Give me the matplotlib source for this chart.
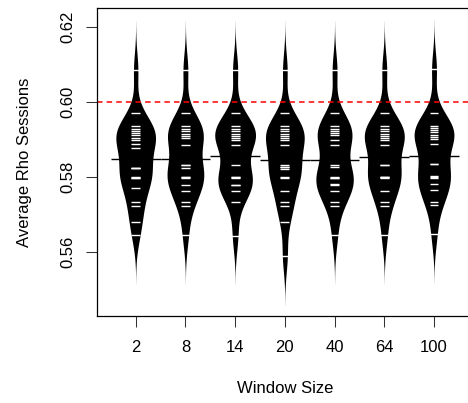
import matplotlib
matplotlib.use('Agg')
import matplotlib.pyplot as plt
import numpy as np

plt.rcParams['font.family'] = ['Liberation Sans', 'DejaVu Sans']

# window sizes (categories)
windows = ['2', '8', '14', '20', '40', '64', '100']

# average rho per session, one list per window size (read off the beanlines,
# repeated values where a beanline looks doubled)
rho_w2 = [0.6086, 0.5971, 0.5935, 0.5929, 0.5923, 0.5917, 0.5911, 0.5905, 0.5899, 0.5888,
          0.5877, 0.5824, 0.5824, 0.5824, 0.5800, 0.5798, 0.5796, 0.5770, 0.5732, 0.5721,
          0.5680, 0.5646]
rho_w8 = [0.6086, 0.5971, 0.5935, 0.5929, 0.5922, 0.5916, 0.5910, 0.5904, 0.5885, 0.5832,
          0.5832, 0.5824, 0.5799, 0.5799, 0.5796, 0.5779, 0.5762, 0.5732, 0.5721, 0.5645]
rho_w14 = [0.6086, 0.5971, 0.5935, 0.5929, 0.5922, 0.5916, 0.5910, 0.5904, 0.5898, 0.5885,
           0.5832, 0.5801, 0.5799, 0.5796, 0.5779, 0.5779, 0.5761, 0.5732, 0.5643]
rho_w20 = [0.6086, 0.5971, 0.5935, 0.5929, 0.5922, 0.5916, 0.5910, 0.5904, 0.5898, 0.5885,
           0.5832, 0.5826, 0.5826, 0.5821, 0.5799, 0.5796, 0.5762, 0.5732, 0.5721, 0.5680,
           0.5588]
rho_w40 = [0.6086, 0.5971, 0.5935, 0.5929, 0.5923, 0.5917, 0.5911, 0.5899, 0.5885, 0.5832,
           0.5826, 0.5800, 0.5798, 0.5796, 0.5780, 0.5779, 0.5762, 0.5732, 0.5721, 0.5645]
rho_w64 = [0.6086, 0.5971, 0.5935, 0.5929, 0.5922, 0.5916, 0.5910, 0.5904, 0.5899, 0.5886,
           0.5833, 0.5833, 0.5800, 0.5800, 0.5799, 0.5797, 0.5763, 0.5732, 0.5721, 0.5645]
rho_w100 = [0.6089, 0.5972, 0.5937, 0.5931, 0.5925, 0.5919, 0.5913, 0.5907, 0.5901, 0.5888,
            0.5835, 0.5835, 0.5802, 0.5800, 0.5798, 0.5782, 0.5765, 0.5734, 0.5724, 0.5647]

reference = 0.60

beans = [rho_w2, rho_w8, rho_w14, rho_w20, rho_w40, rho_w64, rho_w100]

BW = 0.0044      # common kernel bandwidth
CUT = 3          # density extends 3 bw past the data
HALF = 0.41      # max half width of a bean

def kde(data, grid):
    d = np.asarray(data)[:, None]
    return np.exp(-0.5 * ((grid[None, :] - d) / BW) ** 2).sum(axis=0) / len(data)

grids, dens = [], []
for b in beans:
    g = np.linspace(min(b) - CUT * BW, max(b) + CUT * BW, 400)
    grids.append(g)
    dens.append(kde(b, g))
scale = HALF / max(d.max() for d in dens)

fig = plt.figure(figsize=(4.68, 4.03), dpi=100)
ax = fig.add_axes([96.9 / 468, 87 / 403, (472.8 - 96.9) / 468, 308 / 403])

for i, (b, g, d) in enumerate(zip(beans, grids, dens)):
    x = i + 1
    w = d * scale
    ax.fill_betweenx(g, x - w, x + w, color='black', lw=0)
    for v in b:
        ax.plot([x - 0.09, x + 0.09], [v, v], color='white', lw=1.0, solid_capstyle='butt')
    m = np.mean(b)
    ax.plot([x - 0.5, x + 0.5], [m, m], color='black', lw=1.0, solid_capstyle='butt')

ax.axhline(reference, color='#ff0000', lw=1.1, dashes=(3.6, 2.7))

ax.set_xlim(0.22, 7.78)
ax.set_ylim(0.54281, 0.62516)
ax.set_xticks(range(1, 8))
ax.set_xticklabels(windows)
ax.set_yticks([0.56, 0.58, 0.60, 0.62])
ax.set_yticklabels(['0.56', '0.58', '0.60', '0.62'])
ax.tick_params(axis='both', length=8, width=0.75, labelsize=12, color='#333333')
ax.tick_params(axis='x', pad=9.5)
ax.tick_params(axis='y', pad=7.5)
plt.setp(ax.get_yticklabels(), rotation=90, va='center')

for s in ax.spines.values():
    s.set_linewidth(0.9)

ax.set_xlabel('Window Size', fontsize=12)
ax.xaxis.set_label_coords(0.5, -0.21)
ax.set_ylabel('Average Rho Sessions', fontsize=12)
ax.yaxis.set_label_coords(-0.172, 0.5)

fig.savefig('out.png', dpi=100)
